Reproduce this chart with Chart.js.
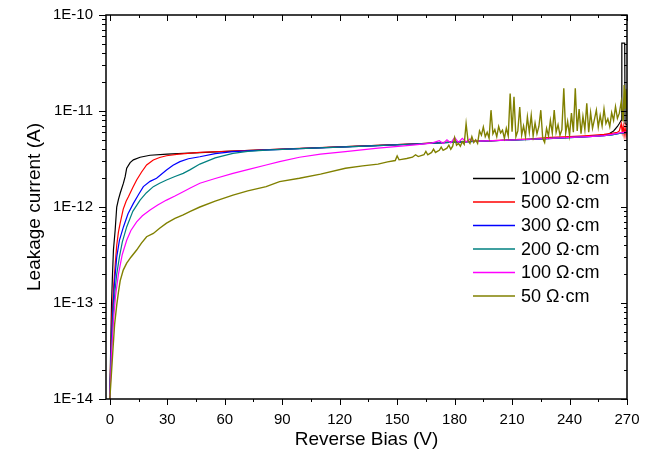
<!DOCTYPE html>
<html>
<head>
<meta charset="utf-8">
<script src="https://cdn.jsdelivr.net/npm/chart.js@4.4.0/dist/chart.umd.min.js"></script>
<style>
  body { margin: 0; background: #fff; }
</style>
</head>
<body>
<canvas id="leakageChart" width="648" height="459"></canvas>
<script>

// tick values
var xTicks = [0, 30, 60, 90, 120, 150, 180, 210, 240, 270];
var yTicks = [1e-14, 1e-13, 1e-12, 1e-11, 1e-10];

var seriesNames = ['1000 Ω·cm', '500 Ω·cm', '300 Ω·cm', '200 Ω·cm', '100 Ω·cm', '50 Ω·cm'];
var lineColors = ['#000000', '#ff0000', '#0000ff', '#008080', '#ff00ff', '#808000'];

// reverse bias (V) and leakage current (pA)
var bias1000 = [0, 0.4, 0.9, 1.4, 1.9, 2.8, 3.6, 4.5, 5.4, 7.1, 8, 8.8, 10.6, 12.3, 15.8, 21, 30, 47, 64, 80, 99,
    120, 140, 160, 180, 200, 220, 240, 255, 260, 263, 265, 266, 267, 267.3, 268.8, 269, 270];
var cur1000 = [0.01, 0.03, 0.1, 0.2, 0.36, 0.58, 1.0, 1.2, 1.39, 1.77, 2.07, 2.53, 2.9, 3.1, 3.3, 3.46, 3.55, 3.68, 3.82, 3.95, 4.07,
    4.22, 4.38, 4.55, 4.75, 4.9, 5.08, 5.3, 5.5, 5.7, 6.2, 6.9, 7.4, 8.0, 51, 51, 7.4, 7.2];

var bias500 = [0, 0.5, 1.2, 2, 2.8, 3.6, 4.5, 5.4, 7, 8.5, 9.7, 12, 14, 16.5, 19.2, 22.7, 26, 29.6, 36, 47, 64, 80, 99,
    120, 140, 160, 180, 200, 220, 230, 240, 250, 258, 262, 265, 266, 267, 267.5, 268, 268.5, 269, 269.5, 270];
var cur500 = [0.01, 0.03, 0.08, 0.15, 0.25, 0.4, 0.55, 0.68, 0.95, 1.15, 1.28, 1.6, 1.91, 2.3, 2.74, 3.09, 3.28, 3.42, 3.55, 3.71, 3.83, 3.95, 4.08,
    4.22, 4.38, 4.55, 4.76, 4.92, 5.12, 5.3, 5.4, 5.55, 5.7, 5.85, 6.0, 6.2, 7.4, 6.0, 7.0, 5.6, 6.8, 5.5, 6.4];

var bias300 = [0, 0.6, 1.5, 2.5, 3.6, 5, 7.1, 9.5, 12.3, 15, 17.5, 21, 24.4, 29.6, 33, 36.6, 41, 47, 55, 64.3, 80, 99,
    120, 140, 160, 180, 200, 220, 240, 250, 258, 262, 266, 270];
var cur300 = [0.01, 0.03, 0.08, 0.17, 0.3, 0.45, 0.62, 0.85, 1.09, 1.35, 1.63, 1.85, 1.99, 2.43, 2.72, 2.97, 3.18, 3.34, 3.6, 3.77, 3.92, 4.06,
    4.2, 4.36, 4.53, 4.73, 4.9, 5.06, 5.28, 5.4, 5.52, 5.65, 5.85, 6.0];

var bias200 = [0, 0.7, 1.8, 2.8, 3.6, 5, 6.5, 8.8, 12, 15.8, 19, 22.7, 26, 29.6, 34, 38.3, 42, 47, 55, 64.3, 72, 81.6, 99,
    120, 140, 160, 180, 200, 220, 240, 250, 258, 262, 266, 270];
var cur200 = [0.01, 0.03, 0.08, 0.14, 0.2, 0.3, 0.43, 0.62, 0.9, 1.18, 1.4, 1.63, 1.77, 1.91, 2.08, 2.24, 2.45, 2.8, 3.25, 3.62, 3.8, 3.92, 4.05,
    4.2, 4.36, 4.53, 4.73, 4.9, 5.06, 5.28, 5.4, 5.52, 5.65, 5.85, 6.0];

var bias100 = [0, 0.9, 2, 3, 4.5, 6.5, 8.8, 11, 14, 17, 21, 25, 29.6, 34, 38.3, 42, 47, 55, 64.3, 72, 81.6, 88.6, 99, 110, 123, 140, 158,
    168, 172, 174, 176, 178, 180, 182, 184, 186, 188, 190, 192, 200, 220, 240, 250, 258, 262, 266, 270];
var cur100 = [0.01, 0.03, 0.07, 0.12, 0.2, 0.32, 0.45, 0.57, 0.7, 0.81, 0.93, 1.05, 1.18, 1.3, 1.44, 1.58, 1.77, 1.98, 2.24, 2.45, 2.74, 2.97, 3.3, 3.55, 3.77, 4.1, 4.42,
    4.62, 4.9, 4.6, 5.0, 4.65, 5.3, 4.7, 5.2, 4.75, 5.1, 4.8, 4.85, 4.92, 5.08, 5.3, 5.42, 5.55, 5.7, 5.9, 6.05];

var bias50 = [0, 1.5, 2.5, 3.6, 4.5, 5.4, 7, 8.8, 11, 14, 16.5, 19.2, 22.7, 26, 29.6, 34, 38.3, 42, 47, 55, 64.3, 72, 81.6, 88.6, 99,
    110, 123, 132, 140, 145, 149, 150, 151, 155, 158, 159.6, 161, 164, 165, 166, 168, 169, 170, 172, 173, 174, 176, 177, 178, 179,
    180, 181, 182, 183, 184, 185, 186, 187, 188, 189, 190, 191, 192, 193, 194, 195, 196, 197, 198, 199,
    200, 201, 202, 203, 204, 205, 206, 207, 208, 209, 210, 211, 212, 213, 214, 215, 216, 217, 218, 219,
    220, 221, 222, 223, 224, 225, 226, 227, 228, 229, 230, 231, 232, 233, 234, 235, 236, 237, 238, 239,
    240, 241, 242, 243, 244, 245, 246, 247, 248, 249, 250, 251, 252, 253, 254, 255, 256, 257, 258, 259,
    260, 261, 262, 263, 264, 265, 266, 267, 268, 268.5, 269, 269.5, 270];
var cur50 = [0.01, 0.03, 0.06, 0.095, 0.13, 0.17, 0.22, 0.26, 0.3, 0.356, 0.42, 0.49, 0.53, 0.6, 0.68, 0.76, 0.83, 0.9, 1.0, 1.15, 1.33, 1.47, 1.63, 1.84, 1.99,
    2.2, 2.53, 2.68, 2.8, 2.95, 3.05, 3.4, 3.1, 3.2, 3.3, 3.5, 3.35, 3.5, 3.8, 3.5, 3.7, 4.0, 3.7, 3.9, 4.2, 3.9, 4.1, 4.4, 4.0, 4.3,
    5.3, 4.4, 4.6, 4.3, 4.8, 4.5, 7.4, 4.9, 4.6, 5.4, 4.7, 5.0, 4.6, 6.2, 5.6, 6.8, 5.4, 6.0, 5.2, 10.2,
    5.8, 6.4, 5.4, 6.9, 5.9, 6.3, 5.2, 6.6, 5.5, 15.2, 6.1, 14.1, 5.4, 6.2, 11.0, 5.6, 7.0, 5.4, 8.7, 6.0,
    9.0, 5.5, 7.5, 5.8, 6.9, 10.2, 5.2, 4.7, 6.6, 5.5, 8.0, 5.9, 10.2, 6.0, 7.2, 5.6, 6.4, 17.2, 5.9, 7.8,
    5.6, 9.5, 6.0, 17.2, 6.2, 10.5, 5.8, 8.8, 6.4, 12.0, 6.0, 9.6, 6.6, 8.2, 10.2, 6.8, 9.0, 7.0, 10.5, 7.4,
    8.3, 6.9, 9.6, 8.0, 11.1, 8.4, 9.5, 12.5, 7.8, 18.7, 10.5, 17.0, 8.0];

var allBias = [bias1000, bias500, bias300, bias200, bias100, bias50];
var allCurrent = [cur1000, cur500, cur300, cur200, cur100, cur50];

function toPoints(xs, ys) {
    return xs.map(function (v, i) { return { x: v, y: ys[i] * 1e-12 }; });
}

// frame, inward/outward ticks and the in-plot legend
var frameAndLegend = {
    id: 'frameAndLegend',
    afterDraw: function (chart) {
        var ctx = chart.ctx;
        var a = chart.chartArea;
        var sx = chart.scales.x, sy = chart.scales.y;
        ctx.save();
        ctx.strokeStyle = '#000';
        ctx.lineWidth = 1;
        ctx.beginPath();
        xTicks.forEach(function (v, i) {
            var px = Math.round(sx.getPixelForValue(v)) + 0.5;
            ctx.moveTo(px, a.bottom); ctx.lineTo(px, a.bottom + 6);
            ctx.moveTo(px, a.top); ctx.lineTo(px, a.top + 6);
            if (i < xTicks.length - 1) {
                var mx = Math.round(sx.getPixelForValue(v + 15)) + 0.5;
                ctx.moveTo(mx, a.bottom); ctx.lineTo(mx, a.bottom + 3);
                ctx.moveTo(mx, a.top); ctx.lineTo(mx, a.top + 3);
            }
        });
        yTicks.forEach(function (v, i) {
            var py = Math.round(sy.getPixelForValue(v)) + 0.5;
            ctx.moveTo(a.left - 7, py); ctx.lineTo(a.left, py);
            ctx.moveTo(a.right, py); ctx.lineTo(a.right - 6, py);
            if (i < yTicks.length - 1) {
                for (var k = 2; k <= 9; k++) {
                    var my = Math.round(sy.getPixelForValue(v * k)) + 0.5;
                    ctx.moveTo(a.left - 4, my); ctx.lineTo(a.left, my);
                    ctx.moveTo(a.right, my); ctx.lineTo(a.right - 3, my);
                }
            }
        });
        ctx.stroke();
        ctx.lineWidth = 1.5;
        ctx.strokeRect(a.left, a.top, a.right - a.left, a.bottom - a.top);

        // legend
        ctx.font = '18px "Liberation Sans", Arial, sans-serif';
        ctx.textBaseline = 'middle';
        ctx.fillStyle = '#000';
        chart.data.datasets.forEach(function (ds, i) {
            var ly = 178.5 + i * 23.5;
            ctx.strokeStyle = ds.borderColor;
            ctx.lineWidth = 1.3;
            ctx.beginPath();
            ctx.moveTo(473, ly); ctx.lineTo(515, ly);
            ctx.stroke();
            ctx.fillText(ds.label, 521, ly + 1);
        });
        ctx.restore();
    }
};

Chart.defaults.font.family = '"Liberation Sans", Arial, sans-serif';
Chart.defaults.color = '#000';

(function () {
    var datasets = seriesNames.map(function (name, i) {
        return {
            label: name,
            data: toPoints(allBias[i], allCurrent[i]),
            borderColor: lineColors[i],
            borderWidth: i === 5 ? 1.4 : 1.2,
            pointRadius: 0,
            fill: false,
            tension: 0,
            order: seriesNames.length - i
        };
    });

    new Chart(document.getElementById('leakageChart'), {
        type: 'line',
        data: { datasets: datasets },
        options: {
            responsive: false,
            animation: false,
            devicePixelRatio: 1,
            layout: { padding: { top: 15, right: 21, left: 0, bottom: 0 } },
            plugins: { legend: { display: false }, tooltip: { enabled: false } },
            scales: {
                x: {
                    type: 'linear',
                    min: -2,
                    max: 270,
                    afterFit: function (scale) {
                        scale.height = 60;
                        scale.paddingLeft = 0;
                        scale.paddingRight = 0;
                    },
                    afterBuildTicks: function (scale) {
                        scale.ticks = xTicks.map(function (v) { return { value: v }; });
                    },
                    grid: { display: false, drawTicks: false },
                    border: { display: false },
                    ticks: { font: { size: 15 }, padding: 12, autoSkip: false, maxRotation: 0 },
                    title: { display: true, text: 'Reverse Bias (V)', font: { size: 19 }, padding: { bottom: 8, top: 0 } }
                },
                y: {
                    type: 'logarithmic',
                    min: 1e-14,
                    max: 1e-10,
                    afterFit: function (scale) {
                        scale.width = 106;
                        scale.paddingTop = 0;
                        scale.paddingBottom = 0;
                    },
                    afterBuildTicks: function (scale) {
                        scale.ticks = yTicks.map(function (v) { return { value: v }; });
                    },
                    grid: { display: false, drawTicks: false },
                    border: { display: false },
                    ticks: {
                        font: { size: 15 },
                        padding: 13,
                        autoSkip: false,
                        callback: function (v) { return '1E' + Math.round(Math.log10(v)); }
                    },
                    title: { display: true, text: 'Leakage current (A)', font: { size: 19 }, padding: { top: 23, bottom: 0 } }
                }
            }
        },
        plugins: [frameAndLegend]
    });
})();

</script>
</body>
</html>
